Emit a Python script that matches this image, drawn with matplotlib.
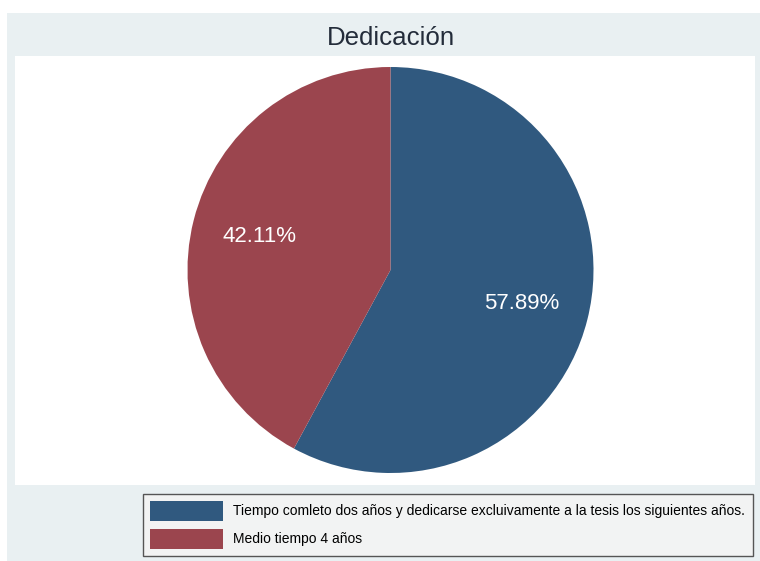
import matplotlib
matplotlib.use("Agg")
import matplotlib.pyplot as plt
from matplotlib.patches import Rectangle

plt.rcParams["font.family"] = ["Liberation Sans", "DejaVu Sans"]

# ======================
# data
# ======================
labels = [
    "Tiempo comleto dos años y dedicarse excluivamente a la tesis los siguientes años.",
    "Medio tiempo 4 años",
]
shares = [57.89, 42.11]
colors = ["#30597f", "#9b454e"]

title = "Dedicación"

W, H = 760, 561


def fx(px):
    return px / W


def fy(py):
    return 1 - py / H


# ======================
# figure + background panels
# ======================
fig = plt.figure(figsize=(W / 100, H / 100), dpi=100)
fig.patch.set_facecolor("white")

fig.add_artist(Rectangle((fx(7), fy(561)), fx(760) - fx(7), fy(13) - fy(561),
                         transform=fig.transFigure, facecolor="#e9f0f2",
                         edgecolor="none", zorder=0))
fig.add_artist(Rectangle((fx(15), fy(485)), fx(755) - fx(15), fy(56) - fy(485),
                         transform=fig.transFigure, facecolor="white",
                         edgecolor="none", zorder=0))

fig.text(fx(391), fy(38), title, ha="center", va="center",
         fontsize=18.6, color="#232c3a")

# ======================
# pie
# ======================
cx, cy, r = 390.5, 270, 203
ax = fig.add_axes([fx(cx - r), fy(cy + r), 2 * r / W, 2 * r / H])
ax.set_zorder(2)

wedges, _, autotexts = ax.pie(
    shares,
    colors=colors,
    startangle=90,
    counterclock=False,
    autopct="%.2f%%",
    pctdistance=0.667,
    radius=1,
    wedgeprops={"linewidth": 0},
    textprops={"color": "white", "fontsize": 16},
)
ax.set_xlim(-1, 1)
ax.set_ylim(-1, 1)
ax.set_aspect("auto")
ax.axis("off")

# ======================
# legend
# ======================
fs = 10
leg = fig.legend(
    wedges,
    labels,
    loc="upper left",
    bbox_to_anchor=(fx(143), fy(556), fx(753) - fx(143), fy(494) - fy(556)),
    mode="expand",
    fontsize=fs,
    handlelength=5.25,
    handleheight=1.84,
    handletextpad=0.75,
    labelspacing=0.58,
    borderpad=0.5,
    borderaxespad=0,
    fancybox=False,
    frameon=True,
)
frame = leg.get_frame()
frame.set_facecolor("#f2f3f3")
frame.set_edgecolor("#555555")
frame.set_linewidth(1.0)
frame.set_alpha(1)

fig.savefig("out.png", dpi=100)
